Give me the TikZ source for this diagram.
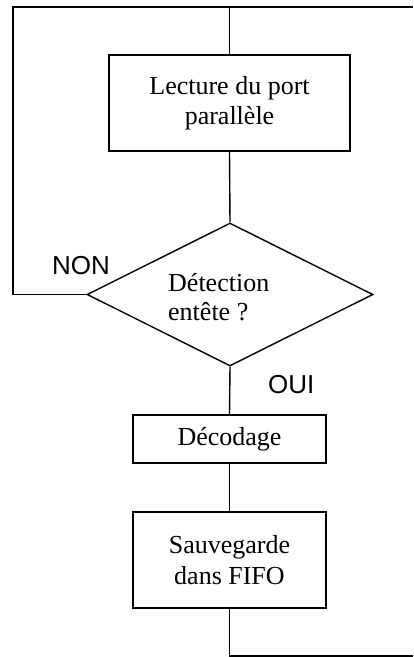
\documentclass[tikz,border=0pt]{standalone}
\usepackage{fontspec}
\setmainfont{Liberation Serif}
\newfontfamily\labelfont{Liberation Sans}
\usetikzlibrary{shapes.geometric}
\begin{document}
\begin{tikzpicture}[x=1pt,y=-1pt,
  line/.style={draw=black,line width=1.4pt},
  procbox/.style={draw=black,line width=1.4pt,rectangle,inner sep=0pt,align=center,
    font=\fontsize{26}{30.5}\selectfont},
  decbox/.style={draw=black,line width=1.4pt,diamond,aspect=2,inner sep=0pt,
    minimum width=286pt,minimum height=143pt},
  txt/.style={inner sep=0pt,font=\fontsize{26}{29}\selectfont},
  lbl/.style={inner sep=0pt,font=\labelfont\fontsize{26}{30}\selectfont}]
\useasboundingbox (0,0) rectangle (413,657);
\fill[white] (0,0) rectangle (413,657);
\node[procbox,minimum width=241pt,minimum height=96pt] (lect) at (229.5,103) {Lecture du port\\parallèle};
\node[decbox] (dec) at (230,294.5) {};
\node[txt,align=left,anchor=west] (dectxt) at (168,297.5) {Détection\\entête ?};
\node[procbox,minimum width=193pt,minimum height=48pt] (deco) at (229.5,439) {Décodage};
\node[procbox,minimum width=193pt,minimum height=96pt] (sauv) at (229.5,560) {Sauvegarde\\dans FIFO};
\node[lbl,anchor=base west] (non) at (52,274) {NON};
\node[lbl,anchor=base west] (oui) at (268,393) {OUI};
\coordinate (tl) at (13,7);
\coordinate (tr) at (413,7);
\coordinate (br) at (413,656);
\draw[line] (dec.west) -- (dec.west -| tl) -- (tl) -- (tr);
\draw[line] (lect.north) -- (lect.north |- tl);
\draw[line] (lect.south) -- (dec.north);
\draw[line] (dec.south) -- (deco.north);
\draw[line] (deco.south) -- (sauv.north);
\draw[line] (sauv.south) -- (sauv.south |- br) -- (br);
\end{tikzpicture}
\end{document}
